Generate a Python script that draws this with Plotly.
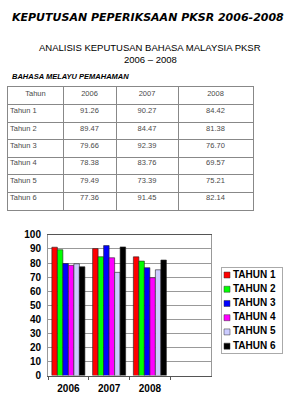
import plotly.graph_objects as go

years = ["2006", "2007", "2008"]
series_names = ["TAHUN 1", "TAHUN 2", "TAHUN 3", "TAHUN 4", "TAHUN 5", "TAHUN 6"]
row_labels = ["Tahun 1", "Tahun 2", "Tahun 3", "Tahun 4", "Tahun 5", "Tahun 6"]
header_first = "Tahun"
v2006 = [91.26, 89.47, 79.66, 78.38, 79.49, 77.36]
v2007 = [90.27, 84.47, 92.39, 83.76, 73.39, 91.45]
v2008 = [84.42, 81.38, 76.70, 69.57, 75.21, 82.14]
colors = ["#FF0000", "#00FF00", "#0000FF", "#FF00FF", "#CCCCFF", "#000000"]

W, H = 293, 400
FONT = "Liberation Sans, Arial"
fig = go.Figure()

# ---------- Table (drawn on hidden axes x2/y2) ----------
col_widths = [55, 53, 62, 75]
edges = [0]
for w in col_widths:
    edges.append(edges[-1] + w)
centers = [(edges[i] + edges[i + 1]) / 2 for i in range(len(col_widths))]
n_rows = len(row_labels) + 1
text_off = 0.36  # text sits slightly above centre of each row
tfont = dict(family=FONT, size=7.5, color="#4a4a4a")

# header
fig.add_trace(go.Scatter(
    x=centers, y=[text_off] * 4, text=[header_first] + years, mode="text",
    textposition="middle center", textfont=tfont, xaxis="x2", yaxis="y2",
    hoverinfo="skip", showlegend=False))
# first column labels
fig.add_trace(go.Scatter(
    x=[edges[0] + 2] * len(row_labels), y=[r + 1 + text_off for r in range(len(row_labels))],
    text=row_labels, mode="text", textposition="middle right", textfont=tfont,
    xaxis="x2", yaxis="y2", hoverinfo="skip", showlegend=False))
# value columns
for ci, vals in enumerate([v2006, v2007, v2008]):
    fig.add_trace(go.Scatter(
        x=[centers[ci + 1]] * len(vals), y=[r + 1 + text_off for r in range(len(vals))],
        text=[f"{v:.2f}" for v in vals], mode="text", textposition="middle center",
        textfont=tfont, xaxis="x2", yaxis="y2", hoverinfo="skip", showlegend=False))

# ---------- Bars ----------
for i, name in enumerate(series_names):
    fig.add_trace(go.Bar(
        x=years, y=[v2006[i], v2007[i], v2008[i]], name=name,
        marker=dict(color=colors[i], line=dict(color="#222", width=0.6)),
        xaxis="x", yaxis="y", showlegend=False,
    ))

# ---------- Legend (hidden axes x3/y3) ----------
fig.add_trace(go.Scatter(
    x=[5] * len(series_names), y=[i + 0.5 for i in range(len(series_names))],
    mode="markers", marker=dict(symbol="square", size=6, color=colors,
                                line=dict(color="#333", width=0.5)),
    xaxis="x3", yaxis="y3", hoverinfo="skip", showlegend=False))
fig.add_trace(go.Scatter(
    x=[11] * len(series_names), y=[i + 0.5 for i in range(len(series_names))],
    text=series_names, mode="text", textposition="middle right",
    textfont=dict(family=FONT, size=10, color="black", weight="bold"),
    xaxis="x3", yaxis="y3", hoverinfo="skip", showlegend=False))

hidden = dict(showticklabels=False, ticks="", zeroline=False, fixedrange=True)

fig.update_layout(
    width=W, height=H, margin=dict(l=0, r=0, t=0, b=0),
    paper_bgcolor="white", plot_bgcolor="white",
    barmode="group", bargap=0.19, bargroupgap=0, showlegend=False,
    xaxis=dict(domain=[48 / W, 211 / W], type="category", categoryarray=years,
               range=[-0.5, 3.5], showgrid=False, showline=True, linecolor="#555",
               mirror=True, ticks="outside", tickson="boundaries", ticklen=3,
               tickcolor="#555", anchor="y", ticklabelstandoff=3,
               tickfont=dict(family=FONT, size=10, color="black", weight="bold")),
    yaxis=dict(domain=[1 - 381 / H, 1 - 236 / H], range=[0, 100], dtick=10,
               showgrid=True, gridcolor="#999", showline=True, linecolor="#999",
               mirror=True, ticks="", ticklabelstandoff=4, anchor="x",
               tickfont=dict(family=FONT, size=10, color="black", weight="bold")),
    xaxis2=dict(domain=[8 / W, 253 / W], range=[edges[0], edges[-1]], tickvals=edges,
                showgrid=True, gridcolor="#888", showline=True, linecolor="#888",
                mirror=True, anchor="y2", **hidden),
    yaxis2=dict(domain=[1 - 210 / H, 1 - 84 / H], range=[n_rows, 0],
                tickvals=list(range(n_rows + 1)), showgrid=True, gridcolor="#888",
                showline=True, linecolor="#888", mirror=True, anchor="x2", **hidden),
    xaxis3=dict(domain=[222 / W, 282 / W], range=[0, 60], showgrid=False,
                showline=True, linecolor="#aaa", mirror=True, anchor="y3", **hidden),
    yaxis3=dict(domain=[1 - 358 / H, 1 - 270 / H], range=[len(series_names), 0],
                showgrid=False, showline=True, linecolor="#aaa", mirror=True,
                anchor="x3", **hidden),
)

fig.add_annotation(text="KEPUTUSAN PEPERIKSAAN PKSR 2006-2008", x=147.5 / W, y=1 - 12 / H,
                   xref="paper", yref="paper", showarrow=False, xanchor="center", yanchor="middle",
                   font=dict(family="DejaVu Sans", size=11, color="black", weight="bold", style="italic"))
fig.add_annotation(text="ANALISIS KEPUTUSAN BAHASA MALAYSIA PKSR", x=150 / W, y=1 - 43 / H,
                   xref="paper", yref="paper", showarrow=False, xanchor="center", yanchor="middle",
                   font=dict(family=FONT, size=9.5, color="black"))
fig.add_annotation(text="2006 – 2008", x=150 / W, y=1 - 55 / H,
                   xref="paper", yref="paper", showarrow=False, xanchor="center", yanchor="middle",
                   font=dict(family=FONT, size=9.5, color="black"))
fig.add_annotation(text="BAHASA MELAYU PEMAHAMAN", x=10 / W, y=1 - 73 / H,
                   xref="paper", yref="paper", showarrow=False, xanchor="left", yanchor="middle",
                   font=dict(family=FONT, size=7.5, color="black", weight="bold", style="italic"))

fig.write_html("out.html")
